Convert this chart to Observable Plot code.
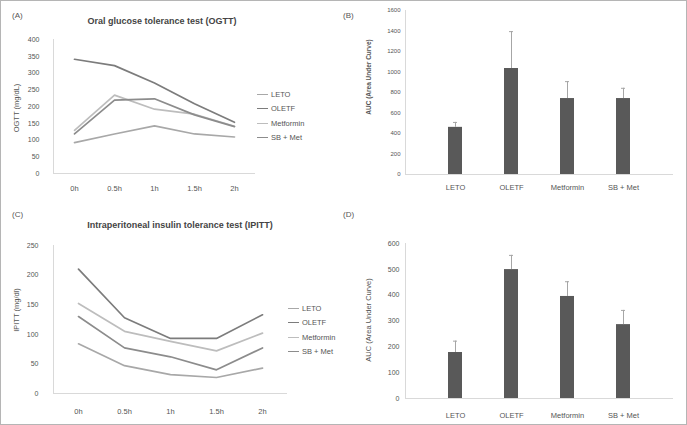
<!DOCTYPE html>
<html><head><meta charset="utf-8">
<script src="https://cdn.jsdelivr.net/npm/d3@7"></script>
<script src="https://cdn.jsdelivr.net/npm/@observablehq/plot@0.6"></script>
<style>
body{margin:0;background:#fff;font-family:"Liberation Sans",Arial,sans-serif;}
#fig{position:relative;width:687px;height:425px;overflow:hidden;background:#fff;}
.panel{position:absolute;}
.txt{position:absolute;color:#555;white-space:nowrap;line-height:1;}
.rot{transform:translate(-50%,-50%) rotate(-90deg);}
.ctr{transform:translate(-50%,-50%);}
.leg{position:absolute;font-size:7.5px;color:#555;line-height:1;}
.leg div{display:flex;align-items:center;height:14.5px;}
.leg span.sw{display:inline-block;width:11px;height:0;border-top:1.6px solid #999;margin-right:3px;}
#border{position:absolute;left:0;top:0;width:687px;height:425px;box-sizing:border-box;border:1px solid #b5b5b5;pointer-events:none;}
</style></head>
<body><div id="fig"></div>
<script>
// ---- data ----
const times = ["0h", "0.5h", "1h", "1.5h", "2h"];
const groups = ["LETO", "OLETF", "Metformin", "SB + Met"];
// OGTT (mg/dL)
const ogttLETO = [92, 118, 142, 118, 109];
const ogttOLETF = [341, 322, 270, 208, 153];
const ogttMetformin = [129, 234, 192, 177, 141];
const ogttSBMet = [118, 219, 223, 175, 140];
const ogttTicks = [0, 50, 100, 150, 200, 250, 300, 350, 400];
// IPITT (mg/dl)
const ipittLETO = [84, 47, 32, 27, 43];
const ipittOLETF = [210, 128, 93, 93, 133];
const ipittMetformin = [152, 105, 88, 72, 102];
const ipittSBMet = [130, 77, 62, 40, 77];
const ipittTicks = [0, 50, 100, 150, 200, 250];
// AUC
const aucOgtt = [460, 1034, 741, 741];
const aucOgttErr = [48, 360, 165, 100];
const aucOgttTicks = [0, 200, 400, 600, 800, 1000, 1200, 1400, 1600];
const aucIpitt = [178, 499, 395, 286];
const aucIpittErr = [44, 55, 57, 55];
const aucIpittTicks = [0, 100, 200, 300, 400, 500, 600];

const lineColors = ["#a8a8a8", "#7c7c7c", "#bdbdbd", "#8c8c8c"];
const barColor = "#595959";
const axisColor = "#d9d9d9";
const font = "'Liberation Sans', Arial, sans-serif";
const fmt = d => String(d);

function longTable(series) {
  const out = [];
  groups.forEach((g, gi) => times.forEach((t, ti) => out.push({group: g, time: t, value: series[gi][ti]})));
  return out;
}
const ogttData = longTable([ogttLETO, ogttOLETF, ogttMetformin, ogttSBMet]);
const ipittData = longTable([ipittLETO, ipittOLETF, ipittMetformin, ipittSBMet]);
const aucOgttData = groups.map((g, i) => ({group: g, value: aucOgtt[i], err: aucOgttErr[i]}));
const aucIpittData = groups.map((g, i) => ({group: g, value: aucIpitt[i], err: aucIpittErr[i]}));

const fig = document.getElementById("fig");
function place(el, left, top) {
  const d = document.createElement("div");
  d.className = "panel"; d.style.left = left + "px"; d.style.top = top + "px";
  d.appendChild(el); fig.appendChild(d);
}
function text(str, x, y, cls, size, extra) {
  const d = document.createElement("div");
  d.className = "txt " + (cls || "");
  d.style.left = x + "px"; d.style.top = y + "px"; d.style.fontSize = size + "px";
  if (extra) Object.assign(d.style, extra);
  d.textContent = str; fig.appendChild(d);
}
function legend(x, y) {
  const d = document.createElement("div");
  d.className = "leg"; d.style.left = x + "px"; d.style.top = y + "px";
  groups.forEach((g, i) => {
    const r = document.createElement("div");
    const s = document.createElement("span"); s.className = "sw"; s.style.borderTopColor = lineColors[i];
    r.appendChild(s); r.appendChild(document.createTextNode(g)); d.appendChild(r);
  });
  fig.appendChild(d);
}

function linePanel(data, ticks, w, h, m, yPad, xPad) {
  return Plot.plot({
    width: w, height: h,
    marginLeft: m[0], marginRight: m[1], marginTop: m[2], marginBottom: m[3],
    style: {background: "transparent", color: "#555", fontFamily: font},
    x: {type: "point", domain: times, padding: 0.5, label: null},
    y: {domain: [ticks[0], ticks[ticks.length - 1]], label: null},
    color: {domain: groups, range: lineColors},
    marks: [
      Plot.frame({anchor: "left", stroke: axisColor}),
      Plot.ruleY([0], {stroke: axisColor}),
      Plot.axisY({ticks: ticks, tickFormat: fmt, tickSize: 0, tickPadding: yPad, fontSize: 7, label: null}),
      Plot.axisX({tickSize: 0, tickPadding: xPad, fontSize: 7.5, label: null}),
      Plot.line(data, {x: "time", y: "value", z: "group", stroke: "group", strokeWidth: 1.7})
    ]
  });
}
function barPanel(data, ticks, w, h, m, yPad, xPad, yFont) {
  return Plot.plot({
    width: w, height: h,
    marginLeft: m[0], marginRight: m[1], marginTop: m[2], marginBottom: m[3],
    style: {background: "transparent", color: "#555", fontFamily: font},
    x: {type: "band", domain: groups, padding: 0.75, align: 0.5, label: null},
    y: {domain: [ticks[0], ticks[ticks.length - 1]], label: null},
    marks: [
      Plot.frame({anchor: "left", stroke: axisColor}),
      Plot.ruleY([0], {stroke: axisColor}),
      Plot.axisY({ticks: ticks, tickFormat: fmt, tickSize: 0, tickPadding: yPad, fontSize: yFont, label: null}),
      Plot.axisX({tickSize: 0, tickPadding: xPad, fontSize: 7.5, label: null}),
      Plot.barY(data, {x: "group", y: "value", fill: barColor}),
      Plot.ruleX(data, {x: "group", y1: "value", y2: d => d.value + d.err, stroke: "#a6a6a6", strokeWidth: 1}),
      Plot.tickY(data, {x: "group", y: d => d.value + d.err, stroke: "#a6a6a6", inset: 5})
    ]
  });
}

// Panel A
place(linePanel(ogttData, ogttTicks, 340, 200, [53, 85, 39, 27], 14, 12), 0, 0);
text("(A)", 12, 12, "", 8);
text("Oral glucose tolerance test (OGTT)", 162, 21, "ctr", 9, {fontWeight: "bold", color: "#444"});
text("OGTT (mg/dL)", 17, 108, "rot", 7.5);
legend(257, 87);

// Panel B
place(barPanel(aucOgttData, aucOgttTicks, 347, 200, [65, 14, 10, 26], 5, 10, 6), 340, 0);
text("(B)", 343, 12, "", 8);
text("AUC (Area Under Curve)", 369, 77, "rot", 6.5, {fontWeight: "bold"});

// Panel C
place(linePanel(ipittData, ipittTicks, 340, 225, [53, 53, 45, 32], 15, 15), 0, 200);
text("(C)", 12, 211, "", 8);
text("Intraperitoneal insulin tolerance test (IPITT)", 180, 225, "ctr", 9, {fontWeight: "bold", color: "#444"});
text("IPITT (mg/dl)", 17, 310, "rot", 7.5);
legend(288, 301);

// Panel D
place(barPanel(aucIpittData, aucIpittTicks, 347, 225, [65, 14, 43, 27], 6, 14, 7), 340, 200);
text("(D)", 343, 211, "", 8);
text("AUC (Area Under Curve)", 369, 320, "rot", 7.5);

const b = document.createElement("div"); b.id = "border"; fig.appendChild(b);
</script></body></html>
